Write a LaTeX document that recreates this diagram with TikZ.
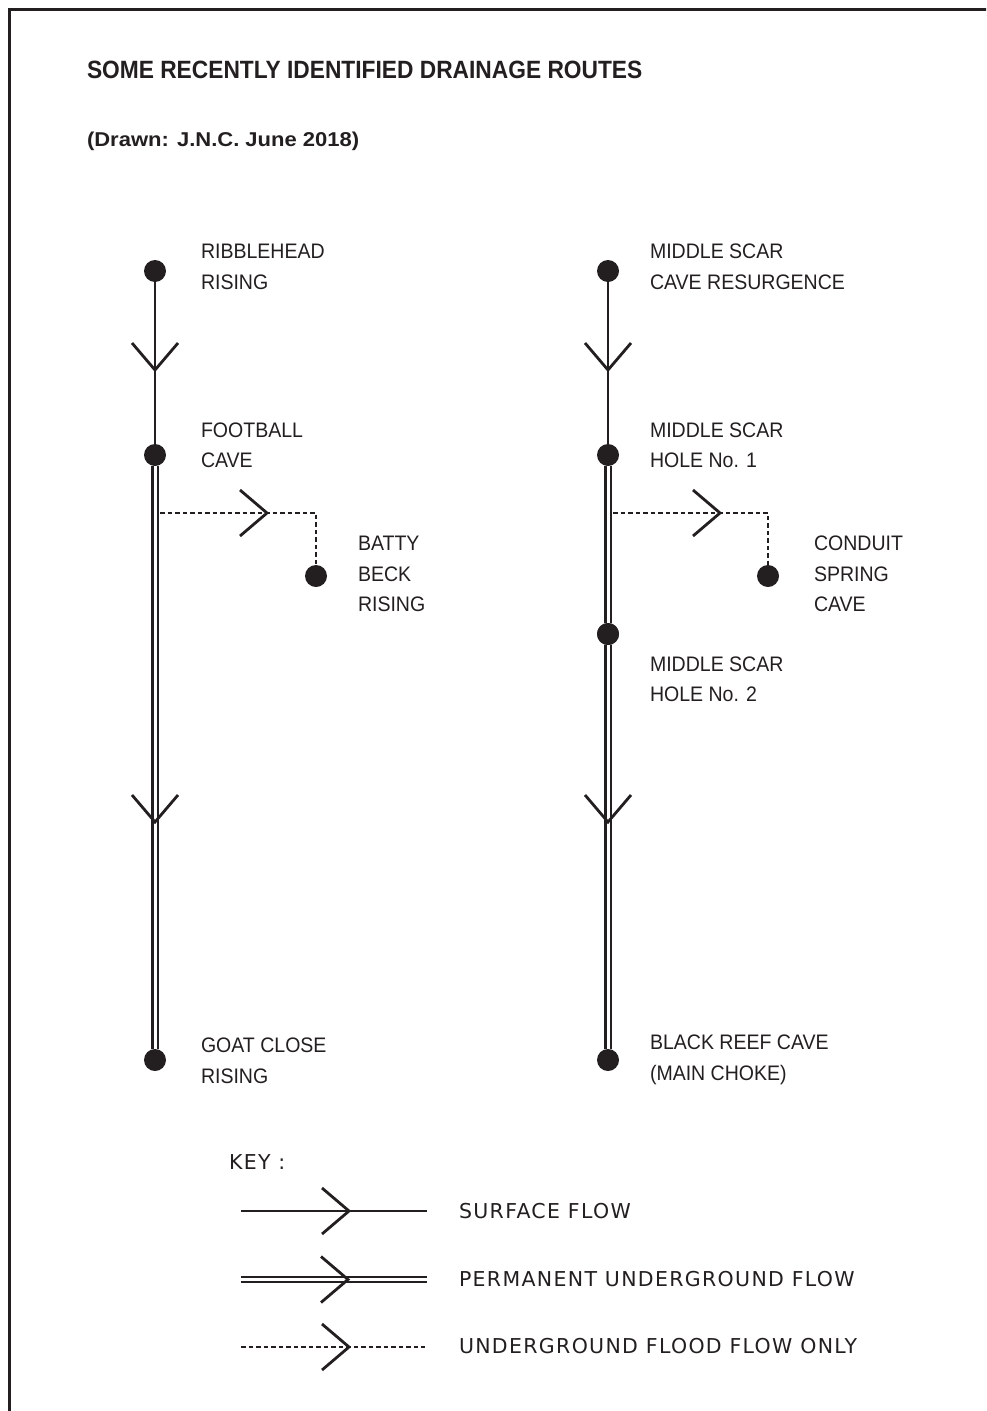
\documentclass[tikz,border=0pt]{standalone}
\usepackage{fontspec}
\setmainfont{Liberation Sans}
\newfontfamily\labfont[FakeStretch=0.93]{Liberation Sans}
\newfontfamily\titfont[FakeStretch=0.91]{Liberation Sans}
\newfontfamily\subfont[FakeStretch=1.1]{Liberation Sans}
\newfontfamily\keyfont[LetterSpace=6.5]{DejaVu Sans}
\definecolor{ink}{RGB}{35,31,32}
\begin{document}
\begin{tikzpicture}[x=1pt,y=-1pt,
  every node/.style={inner sep=0pt,outer sep=0pt,text=ink},
  dot/.style={circle,fill=ink,minimum size=22pt},
  lbl/.style={anchor=base west,font=\labfont\fontsize{21}{25}\selectfont},
  keytxt/.style={anchor=base west,font=\keyfont\fontsize{20.5}{24}\selectfont},
  surf/.style={draw=ink,line width=2.7pt},
  perm/.style={draw=ink,line width=2.2pt,double=white,double distance=3pt},
  flood/.style={draw=ink,line width=2.3pt,dash pattern=on 4.5pt off 3pt},
  chevline/.style={draw=ink,line width=2.8pt},
  chevdown/.pic={\draw[chevline] (-23,-27) -- (0,0) -- (23,-27);},
  chevright/.pic={\draw[chevline] (-27,-23) -- (0,0) -- (-27,23);}
]
\useasboundingbox (0,0) rectangle (986,1411);
\begin{scope}
\clip (0,0) rectangle (986,1411);
\draw[ink,line width=3pt] (9.5,1420) -- (9.5,9.5) -- (1000,9.5);
\end{scope}

% titles
\node[anchor=base west,font=\titfont\bfseries\fontsize{25}{30}\selectfont] (title) at (87,78) {SOME RECENTLY IDENTIFIED DRAINAGE ROUTES};
\node[anchor=base west,font=\subfont\bfseries\fontsize{20}{24}\selectfont] (sub) at (87,146) {(Drawn: J.N.C. June 2018)};

% left route
\node[dot] (rib) at (155,271) {};
\node[dot] (foot) at (155,455) {};
\node[dot] (goat) at (155,1060) {};
\node[dot] (batty) at (316,576) {};
\coordinate (lbr) at (160,513);
\coordinate (lcorner) at (316,513);
\draw[surf] (rib) -- (foot);
\draw[perm] (foot) -- (goat);
\draw[flood] (lbr) -- (lcorner) -- (batty);
\pic at (155,370) {chevdown};
\pic at (155,822) {chevdown};
\pic at (267,513) {chevright};

% right route
\node[dot] (msr) at (608,271) {};
\node[dot] (ms1) at (608,455) {};
\node[dot] (ms2) at (608,634) {};
\node[dot] (brc) at (608,1060) {};
\node[dot] (csc) at (768,576) {};
\coordinate (rbr) at (613,513);
\coordinate (rcorner) at (768,513);
\draw[surf] (msr) -- (ms1);
\draw[perm] (ms1) -- (ms2);
\draw[perm] (ms2) -- (brc);
\draw[flood] (rbr) -- (rcorner) -- (csc);
\node[dot] at (ms2) {};
\pic at (608,370) {chevdown};
\pic at (608,822) {chevdown};
\pic at (720,513) {chevright};

% labels left
\node[lbl] (l1a) at (201,258) {RIBBLEHEAD};
\node[lbl] (l1b) at (201,289) {RISING};
\node[lbl] (l2a) at (201,437) {FOOTBALL};
\node[lbl] (l2b) at (201,467) {CAVE};
\node[lbl] (l3a) at (358,550) {BATTY};
\node[lbl] (l3b) at (358,581) {BECK};
\node[lbl] (l3c) at (358,611) {RISING};
\node[lbl] (l4a) at (201,1052) {GOAT CLOSE};
\node[lbl] (l4b) at (201,1083) {RISING};
% labels right
\node[lbl] (r1a) at (650,258) {MIDDLE SCAR};
\node[lbl] (r1b) at (650,289) {CAVE RESURGENCE};
\node[lbl] (r2a) at (650,437) {MIDDLE SCAR};
\node[lbl] (r2b) at (650,467) {HOLE No. 1};
\node[lbl] (r3a) at (814,550) {CONDUIT};
\node[lbl] (r3b) at (814,581) {SPRING};
\node[lbl] (r3c) at (814,611) {CAVE};
\node[lbl] (r4a) at (650,671) {MIDDLE SCAR};
\node[lbl] (r4b) at (650,701) {HOLE No. 2};
\node[lbl] (r5a) at (650,1049) {BLACK REEF CAVE};
\node[lbl] (r5b) at (650,1080) {(MAIN CHOKE)};

% key
\node[keytxt] (key) at (229,1169) {KEY :};
\coordinate (k1s) at (241,1211); \coordinate (k1e) at (427,1211);
\coordinate (k2s) at (241,1279.5); \coordinate (k2e) at (427,1279.5);
\coordinate (k3s) at (241,1347); \coordinate (k3e) at (425,1347);
\draw[surf] (k1s) -- (k1e);
\draw[perm] (k2s) -- (k2e);
\draw[flood] (k3s) -- (k3e);
\pic at (349,1211) {chevright};
\pic at (348,1279.5) {chevright};
\pic at (349,1347) {chevright};
\node[keytxt] (kt1) at (459,1218) {SURFACE FLOW};
\node[keytxt] (kt2) at (459,1286) {PERMANENT UNDERGROUND FLOW};
\node[keytxt] (kt3) at (459,1353) {UNDERGROUND FLOOD FLOW ONLY};
\end{tikzpicture}
\end{document}
